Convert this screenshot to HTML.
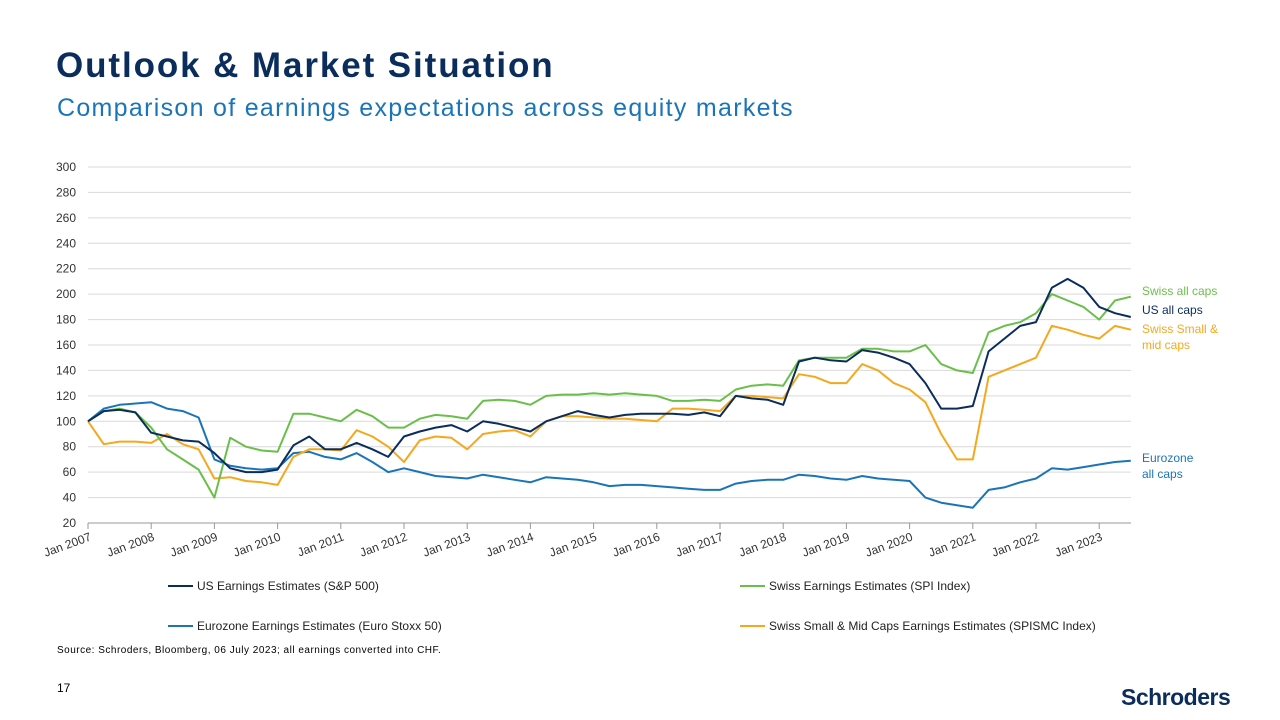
<!DOCTYPE html>
<html><head><meta charset="utf-8"><style>
body{margin:0;width:1280px;height:720px;background:#fff;font-family:"Liberation Sans",sans-serif;overflow:hidden;position:relative}
.t{position:absolute;white-space:nowrap}
</style></head><body>
<div class="t" style="left:56px;top:46px;font-size:35px;font-weight:bold;color:#0b2d5b;letter-spacing:1.9px">Outlook &amp; Market Situation</div>
<div class="t" style="left:57px;top:94px;font-size:25px;color:#1a75b8;letter-spacing:1.3px">Comparison of earnings expectations across equity markets</div>
<svg id="chart" width="1280" height="720" style="position:absolute;left:0;top:0" xmlns="http://www.w3.org/2000/svg"></svg>
<div class="t" style="left:57px;top:645px;font-size:10px;color:#000;letter-spacing:0.5px">Source: Schroders, Bloomberg, 06 July 2023; all earnings converted into CHF.</div>
<div class="t" style="left:57px;top:681px;font-size:12px;color:#000">17</div>
<div class="t" style="left:1121px;top:684px;font-size:23px;font-weight:bold;color:#0b2d5b;letter-spacing:-0.5px">Schroders</div>
<script>
const yTicks=[20,40,60,80,100,120,140,160,180,200,220,240,260,280,300];
const xYears=[2007,2008,2009,2010,2011,2012,2013,2014,2015,2016,2017,2018,2019,2020,2021,2022,2023];
const startYear=2007, stepYears=0.25;
const usVals=[100,108,109,107, 91,88,85,84, 75,63,60,60, 62,81,88,78, 78,83,78,72, 88,92,95,97, 92,100,98,95, 92,100,104,108, 105,103,105,106, 106,106,105,107, 104,120,118,117, 113,147,150,148, 147,156,154,150, 145,130,110,110, 112,155,165,175, 178,205,212,205, 190,185,182];
const swissVals=[100,108,110,107, 95,78,70,62, 40,87,80,77, 76,106,106,103, 100,109,104,95, 95,102,105,104, 102,116,117,116, 113,120,121,121, 122,121,122,121, 120,116,116,117, 116,125,128,129, 128,148,150,150, 150,157,157,155, 155,160,145,140, 138,170,175,178, 185,200,195,190, 180,195,198];
const smcVals=[100,82,84,84, 83,90,82,78, 55,56,53,52, 50,72,78,78, 77,93,88,80, 68,85,88,87, 78,90,92,93, 88,100,104,104, 103,102,102,101, 100,110,110,109, 108,120,120,119, 118,137,135,130, 130,145,140,130, 125,115,90,70, 70,135,140,145, 150,175,172,168, 165,175,172];
const euroVals=[100,110,113,114, 115,110,108,103, 70,65,63,62, 63,75,76,72, 70,75,68,60, 63,60,57,56, 55,58,56,54, 52,56,55,54, 52,49,50,50, 49,48,47,46, 46,51,53,54, 54,58,57,55, 54,57,55,54, 53,40,36,34, 32,46,48,52, 55,63,62,64, 66,68,69];
const NS="http://www.w3.org/2000/svg";
const svg=document.getElementById('chart');
const X=y=>88+(y-2007)*63.2;
const Y=v=>523-(v-20)*1.2714;
function mk(t,a){const e=document.createElementNS(NS,t);for(const k in a)e.setAttribute(k,a[k]);svg.appendChild(e);return e;}
yTicks.forEach(v=>{
 if(v>20){const g=mk('line',{x1:88,x2:1131,y1:Y(v),y2:Y(v),stroke:'#d9d9d9','stroke-width':1});
 
 }
 const t=mk('text',{x:76,y:Y(v)+4,'text-anchor':'end','font-size':12,fill:'#333'});t.textContent=v;
 
 
});
const ax=mk('line',{x1:88,x2:1131,y1:523,y2:523,stroke:'#999','stroke-width':1});


xYears.forEach(yr=>{
 const x=X(yr);
 const tk=mk('line',{x1:x,x2:x,y1:523,y2:529,stroke:'#999'});
 
 
 const t=mk('text',{x:x+4,y:540,'text-anchor':'end','font-size':12,fill:'#333',transform:`rotate(-20 ${x+4} 540)`});
 t.textContent='Jan '+yr;
 
 
});
function series(vals,color,name){
 const pts=vals.map((v,i)=>X(startYear+i*stepYears).toFixed(1)+','+Y(v).toFixed(1)).join(' ');
 const p=mk('polyline',{points:pts,fill:'none',stroke:color,'stroke-width':2,'stroke-linejoin':'round'});
 
 
}
series(euroVals,'#1a75b8','eurozone-line');
series(smcVals,'#f5a81c','swiss-small-mid-line');
series(swissVals,'#6abf4b','swiss-all-line');
series(usVals,'#0b2d5b','us-line');
function lab(x,y,txt,c,n){const t=mk('text',{x:x,y:y,'font-size':12,fill:c});t.textContent=txt;
 
 }
lab(1142,295,'Swiss all caps','#6abf4b','label-swiss-all');
lab(1142,314,'US all caps','#0b2d5b','label-us');
lab(1142,333,'Swiss Small &','#f5a81c','label-swiss-smc-1');
lab(1142,349,'mid caps','#f5a81c','label-swiss-smc-2');
lab(1142,462,'Eurozone','#1a75b8','label-euro-1');
lab(1142,478,'all caps','#1a75b8','label-euro-2');
function leg(x,y,txt,c,n){
 const l=mk('line',{x1:x,x2:x+25,y1:y,y2:y,stroke:c,'stroke-width':2});
 
 
 const t=mk('text',{x:x+29,y:y+4,'font-size':12,fill:'#222'});t.textContent=txt;
 
 
}
leg(168,586,'US Earnings Estimates (S&P 500)','#0b2d5b','legend-us');
leg(740,586,'Swiss Earnings Estimates (SPI Index)','#6abf4b','legend-swiss');
leg(168,626,'Eurozone Earnings Estimates (Euro Stoxx 50)','#1a75b8','legend-euro');
leg(740,626,'Swiss Small & Mid Caps Earnings Estimates (SPISMC Index)','#f5a81c','legend-smc');
</script>
</body></html>
